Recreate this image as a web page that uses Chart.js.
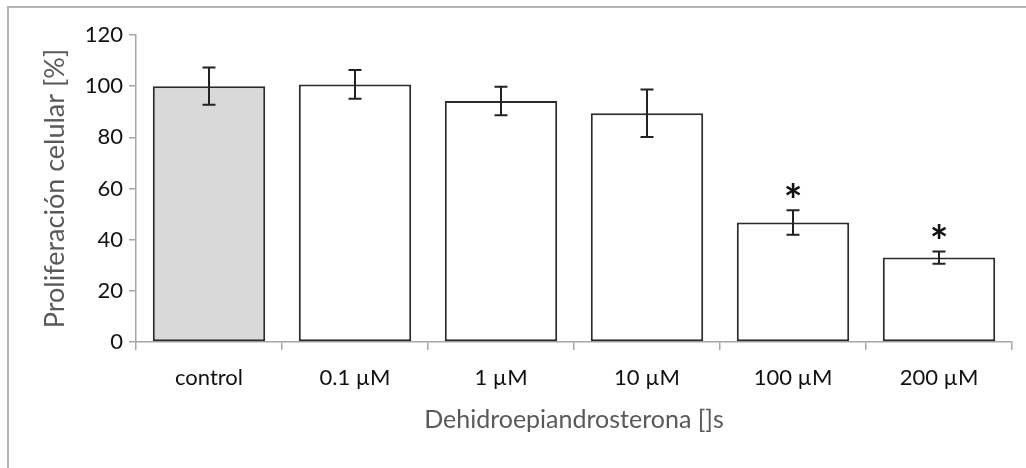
<!DOCTYPE html>
<html>
<head>
<meta charset="utf-8">
<script src="https://cdn.jsdelivr.net/npm/chart.js@4"></script>
<style>
  html, body { margin: 0; padding: 0; background: #fff; }
  canvas { display: block; }
</style>
</head>
<body>
<canvas id="c" width="1026" height="468"></canvas>
<script>
const categories = ["control", "0.1 µM", "1 µM", "10 µM", "100 µM", "200 µM"];
const values = [100, 100.7, 94.2, 89.4, 46.7, 33.0];
const errors = [7.3, 5.6, 5.6, 9.3, 4.8, 2.4];
const significant = [false, false, false, false, true, true];
const yTicks = [0, 20, 40, 60, 80, 100, 120];
const fills = ["#d9d9d9", "#ffffff", "#ffffff", "#ffffff", "#ffffff", "#ffffff"];

const FONT = "Lato, 'Open Sans', 'Liberation Sans', sans-serif";

const framePlugin = {
  id: 'frame',
  beforeDraw(chart) {
    const ctx = chart.ctx;
    ctx.save();
    ctx.fillStyle = '#ffffff';
    ctx.fillRect(0, 0, chart.width, chart.height);
    ctx.strokeStyle = '#b4b4b4';
    ctx.lineWidth = 2;
    ctx.beginPath();
    ctx.moveTo(8, chart.height);
    ctx.lineTo(8, 7);
    ctx.lineTo(chart.width, 7);
    ctx.stroke();
    ctx.restore();
  }
};

const errorPlugin = {
  id: 'errorbars',
  afterDatasetsDraw(chart) {
    const ctx = chart.ctx;
    const y = chart.scales.y;
    const meta = chart.getDatasetMeta(0);
    ctx.save();
    ctx.strokeStyle = '#222';
    ctx.lineWidth = 2;
    meta.data.forEach((bar, i) => {
      const x = bar.x;
      const top = y.getPixelForValue(values[i] + errors[i]);
      const bot = y.getPixelForValue(values[i] - errors[i]);
      ctx.beginPath();
      ctx.moveTo(x, top); ctx.lineTo(x, bot);
      ctx.moveTo(x - 6.5, top); ctx.lineTo(x + 6.5, top);
      ctx.moveTo(x - 6.5, bot); ctx.lineTo(x + 6.5, bot);
      ctx.stroke();
      if (significant[i]) {
        ctx.fillStyle = '#111';
        ctx.font = "bold 44px " + FONT;
        ctx.textAlign = 'center';
        ctx.textBaseline = 'alphabetic';
        const m = ctx.measureText('*');
        const glyphCenter = (m.actualBoundingBoxAscent - m.actualBoundingBoxDescent) / 2;
        ctx.fillText('*', x, top - 20 + glyphCenter);
      }
    });
    ctx.restore();
  }
};

new Chart(document.getElementById('c'), {
  type: 'bar',
  data: {
    labels: categories,
    datasets: [{
      data: values,
      backgroundColor: fills,
      borderColor: '#2b2b2b',
      borderWidth: 2,
      borderSkipped: false,
      barPercentage: 0.77,
      categoryPercentage: 1.0
    }]
  },
  options: {
    responsive: false,
    animation: false,
    devicePixelRatio: 1,
    layout: { padding: { left: 39, top: 35, right: 14, bottom: 33 } },
    plugins: { legend: { display: false }, tooltip: { enabled: false } },
    scales: {
      y: {
        min: 0, max: 120,
        afterFit(s) { s.width = 97; },
        afterBuildTicks(s) { s.ticks = yTicks.map(v => ({ value: v })); },
        ticks: { font: { family: FONT, size: 22 }, color: '#111', padding: 6 },
        grid: { drawOnChartArea: false, drawTicks: true, tickLength: 7, color: '#a6a6a6', lineWidth: 1.5 },
        border: { display: true, color: '#a6a6a6', width: 1.5 },
        title: { display: true, text: 'Proliferación celular [%]', color: '#595959',
                 font: { family: FONT, size: 27 }, padding: 0 }
      },
      x: {
        afterFit(s) { s.height = 93; },
        ticks: { font: { family: FONT, size: 22 }, color: '#111', padding: 15 },
        grid: { offset: true, drawOnChartArea: false, drawTicks: true, tickLength: 8, color: '#a6a6a6', lineWidth: 1.5 },
        border: { display: true, color: '#a6a6a6', width: 1.5 },
        title: { display: true, text: 'Dehidroepiandrosterona []s', color: '#595959',
                 font: { family: FONT, size: 25 }, padding: 0 }
      }
    }
  },
  plugins: [framePlugin, errorPlugin]
});
</script>
</body>
</html>
